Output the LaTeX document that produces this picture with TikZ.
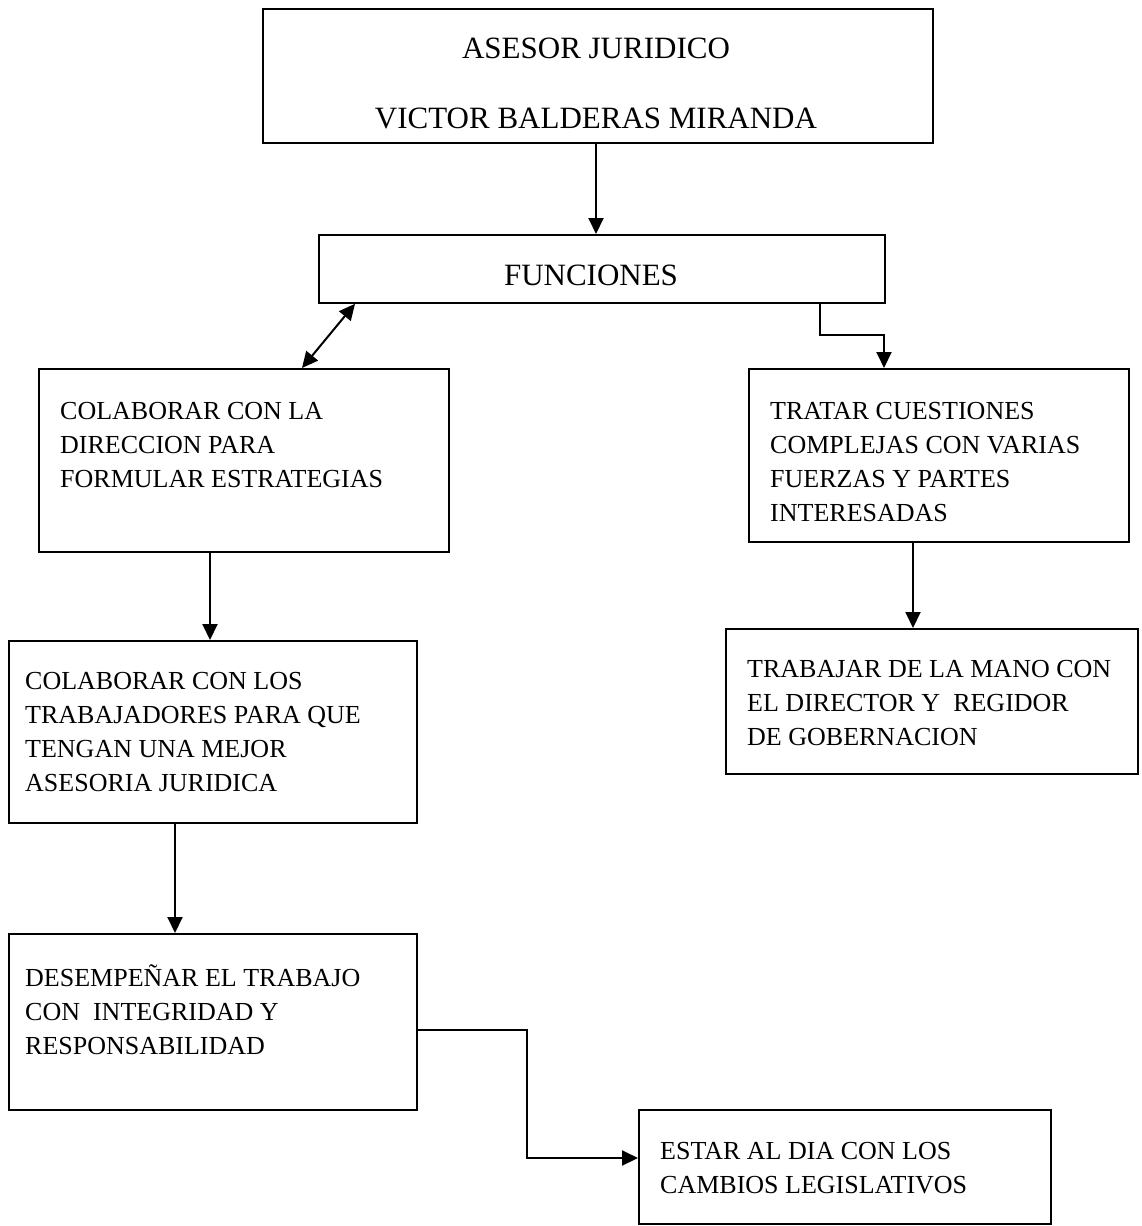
\documentclass[tikz,border=0pt]{standalone}
\usepackage{fontspec}
\setmainfont{Liberation Serif}
\usetikzlibrary{arrows.meta}
\begin{document}
\begin{tikzpicture}[x=1pt,y=-1pt,
  box/.style={draw,line width=1.8pt,inner sep=0pt,anchor=north west},
  txt/.style={anchor=north west,inner sep=0pt,align=left,font=\fontsize{26}{34}\selectfont},
  ttl/.style={inner sep=0pt,font=\fontsize{31}{34}\selectfont},
  conn/.style={line width=2pt,-{Triangle[length=16pt,width=15pt]}},
  dconn/.style={line width=2pt,{Triangle[length=16pt,width=15pt]}-{Triangle[length=16pt,width=15pt]}}]
\useasboundingbox (0,0) rectangle (1142,1226);
% boxes
\node[box,minimum width=670pt,minimum height=134pt] (top) at (262,8) {};
\node[box,minimum width=566pt,minimum height=68pt] (fun) at (318,234) {};
\node[box,minimum width=410pt,minimum height=183pt] (l1) at (38,368) {};
\node[box,minimum width=380pt,minimum height=173pt] (r1) at (748,368) {};
\node[box,minimum width=412pt,minimum height=145pt] (r2) at (725,628) {};
\node[box,minimum width=408pt,minimum height=182pt] (l2) at (8,640) {};
\node[box,minimum width=408pt,minimum height=176pt] (l3) at (8,933) {};
\node[box,minimum width=412pt,minimum height=114pt] (br) at (638,1109) {};
% texts
\node[ttl] (t1) at (596,48) {ASESOR JURIDICO};
\node[ttl] (t2) at (596,118) {VICTOR BALDERAS MIRANDA};
\node[ttl] (t3) at (591,275) {FUNCIONES};
\node[txt] (x1) at (60,402) {COLABORAR CON LA\\DIRECCION PARA\\FORMULAR ESTRATEGIAS};
\node[txt] (x2) at (770,402) {TRATAR CUESTIONES\\COMPLEJAS CON VARIAS\\FUERZAS Y PARTES\\INTERESADAS};
\node[txt] (x3) at (747,660) {TRABAJAR DE LA MANO CON\\EL DIRECTOR Y~ REGIDOR\\DE GOBERNACION};
\node[txt] (x4) at (25,672) {COLABORAR CON LOS\\TRABAJADORES PARA QUE\\TENGAN UNA MEJOR\\ASESORIA JURIDICA};
\node[txt] (x5) at (25,965) {DESEMPEÑAR EL TRABAJO\\CON~ INTEGRIDAD Y\\RESPONSABILIDAD};
\node[txt] (x6) at (660,1142) {ESTAR AL DIA CON LOS\\CAMBIOS LEGISLATIVOS};
% connectors
\draw[conn] (top.south -| 596,0) -- (fun.north -| 596,0);
\draw[dconn] (fun.south -| 355,0) -- (l1.north -| 302,0);
\draw[conn] (fun.south -| 820,0) |- (884,335) -- (r1.north -| 884,0);
\draw[conn] (l1.south -| 210,0) -- (l2.north -| 210,0);
\draw[conn] (r1.south -| 913,0) -- (r2.north -| 913,0);
\draw[conn] (l2.south -| 175,0) -- (l3.north -| 175,0);
\draw[conn] (l3.east |- 0,1030) -| (527,1158) -- (br.west |- 0,1158);
\end{tikzpicture}
\end{document}
